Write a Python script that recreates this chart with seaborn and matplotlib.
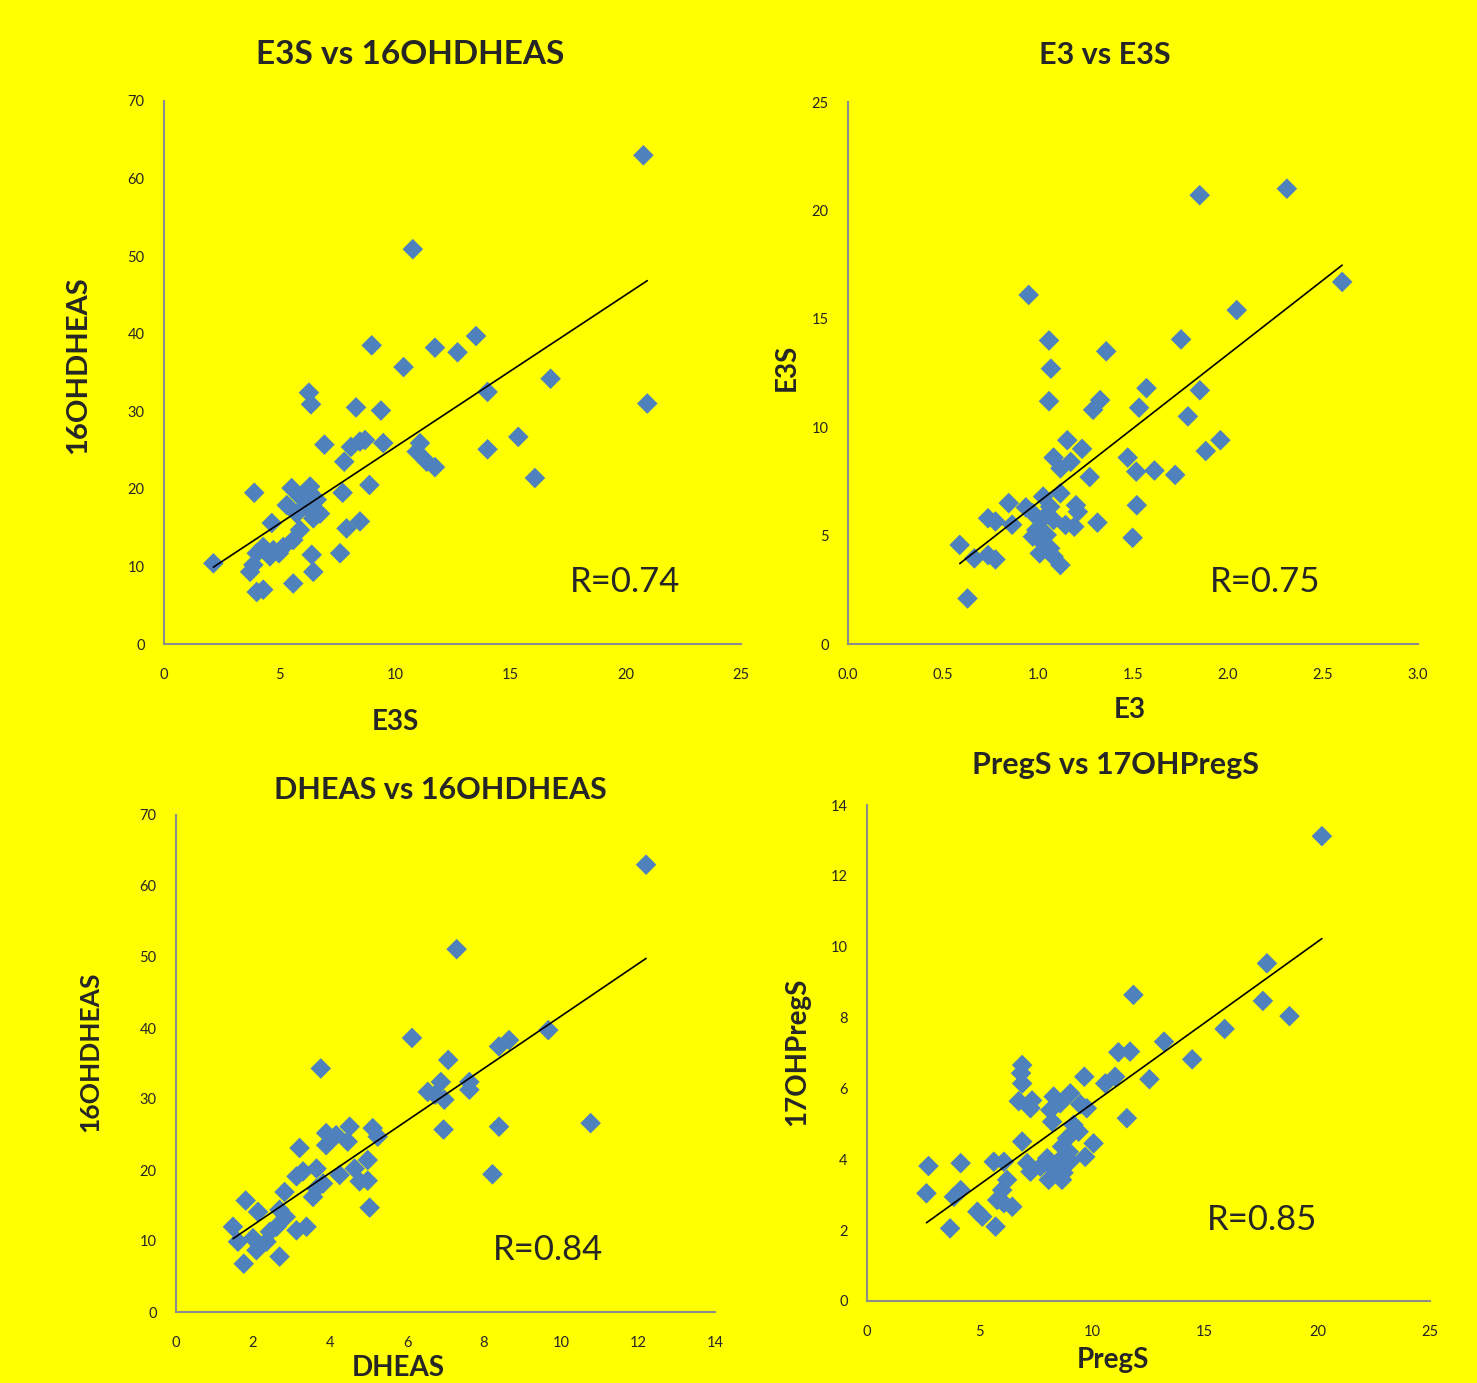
import matplotlib
matplotlib.use('Agg')
import matplotlib.pyplot as plt
import seaborn as sns
import pandas as pd

sns.set_style('white')
plt.rcParams['font.family'] = ['Lato', 'DejaVu Sans']

# E3S vs 16OHDHEAS
e3s_a = [20.77, 10.78, 20.94, 13.52, 11.74, 12.72, 9.0, 10.38, 16.75, 14.02, 6.28, 6.37, 8.32, 9.40,
         15.35, 6.95, 8.49, 8.10, 8.71, 9.5, 7.81, 11.09, 10.95, 11.38, 11.74, 14.02, 16.07, 3.91,
         8.9, 7.74, 5.53, 6.33, 5.89, 5.32, 6.62, 6.18, 6.76, 6.47, 5.75, 4.67, 8.49, 7.91, 5.89,
         5.60, 5.17, 4.74, 4.30, 4.02, 4.59, 3.87, 4.98, 6.4, 7.63, 2.14, 3.73, 6.47, 5.6, 4.02, 4.3]
dheas16_a = [63.0, 50.9, 31.0, 39.7, 38.2, 37.6, 38.5, 35.7, 34.2, 32.5, 32.4, 30.9, 30.5, 30.1,
             26.7, 25.7, 26.1, 25.4, 26.3, 25.9, 23.5, 25.9, 24.8, 23.5, 22.8, 25.1, 21.4, 19.5,
             20.5, 19.5, 20.1, 20.3, 19.0, 17.9, 18.6, 17.7, 16.8, 16.2, 16.8, 15.6, 15.8, 14.9, 14.7,
             13.4, 12.5, 12.1, 12.5, 11.7, 11.3, 10.2, 11.7, 11.5, 11.7, 10.4, 9.3, 9.3, 7.8, 6.7, 7.0]

# E3 vs E3S
e3_b = [1.851, 2.310, 2.601, 0.951, 2.046, 1.058, 1.753, 1.359, 1.068, 1.571, 1.852, 1.058, 1.327,
        1.290, 1.532, 1.789, 1.960, 1.883, 1.154, 1.232, 1.472, 1.082, 1.172, 1.118, 1.517, 1.613,
        1.722, 1.272, 1.520, 1.313, 1.498, 0.846, 0.936, 1.200, 1.210, 1.027, 1.118, 1.064, 0.973,
        1.027, 1.082, 1.145, 1.191, 0.991, 1.046, 0.973, 1.027, 1.064, 1.009, 1.082, 1.118, 0.737,
        0.776, 0.864, 0.588, 0.665, 0.737, 0.776, 0.629]
e3s_b = [20.7, 21.0, 16.7, 16.1, 15.4, 14.0, 14.05, 13.5, 12.7, 11.8, 11.7, 11.2, 11.25, 10.8, 10.9,
         10.5, 9.4, 8.9, 9.4, 9.0, 8.6, 8.6, 8.4, 8.1, 7.95, 8.0, 7.8, 7.7, 6.4, 5.6, 4.9, 6.5, 6.3,
         6.4, 6.1, 6.8, 6.95, 6.33, 6.03, 5.8, 5.72, 5.49, 5.41, 5.26, 5.03, 4.95, 4.64, 4.41, 4.18,
         4.03, 3.64, 5.8, 5.65, 5.5, 4.57, 3.95, 4.1, 3.9, 2.1]

# DHEAS vs 16OHDHEAS
dheas_c = [12.21, 7.29, 6.13, 9.67, 8.39, 8.65, 3.76, 7.07, 6.88, 6.54, 6.73, 6.97, 7.62, 7.62,
           10.77, 8.39, 6.95, 8.22, 5.03, 4.51, 3.9, 4.16, 5.11, 5.24, 4.46, 3.9, 3.21, 4.98, 4.64,
           4.25, 3.65, 3.3, 3.13, 4.77, 4.98, 3.82, 3.65, 3.56, 2.82, 1.81, 2.13, 2.69, 2.85, 3.39,
           3.13, 2.61, 2.44, 1.48, 1.61, 2.0, 2.18, 2.35, 2.09, 1.76, 2.69]
dheas16_c = [63.0, 51.1, 38.6, 39.7, 37.4, 38.3, 34.3, 35.5, 32.4, 31.0, 30.6, 29.9, 32.4, 31.3,
             26.6, 26.1, 25.7, 19.4, 14.7, 26.1, 25.2, 24.9, 25.9, 24.7, 24.0, 23.5, 23.1, 21.4, 20.2,
             19.3, 20.2, 19.8, 19.1, 18.4, 18.5, 18.1, 17.4, 16.2, 16.9, 15.7, 14.1, 14.4, 13.4, 12.0,
             11.5, 12.0, 11.3, 12.0, 9.9, 10.4, 9.4, 9.9, 8.7, 6.8, 7.8]

# PregS vs 17OHPregS
pregs_d = [20.2, 17.76, 11.83, 17.58, 18.76, 15.88, 13.19, 14.44, 11.16, 11.68, 12.54, 11.02, 10.58,
           9.65, 11.54, 6.89, 6.84, 6.89, 6.74, 7.33, 7.26, 8.29, 9.03, 8.58, 9.47, 9.76, 8.14, 8.22,
           9.17, 9.4, 8.88, 10.06, 6.89, 8.66, 8.96, 9.69, 8.0, 8.58, 9.03, 7.7, 8.29, 8.73, 8.07,
           8.66, 7.11, 7.26, 5.63, 6.08, 4.16, 2.73, 2.64, 4.16, 3.86, 6.22, 6.0, 5.78, 6.08, 6.45,
           4.9, 5.12, 3.69, 5.71]
ohpregs_d = [13.12, 9.53, 8.64, 8.47, 8.04, 7.68, 7.32, 6.82, 7.02, 7.04, 6.26, 6.33, 6.14, 6.33,
             5.16, 6.66, 6.43, 6.14, 5.64, 5.66, 5.44, 5.77, 5.86, 5.58, 5.55, 5.44, 5.39, 5.06, 4.97,
             4.78, 4.59, 4.45, 4.5, 4.36, 4.21, 4.07, 4.03, 3.99, 3.95, 3.79, 3.7, 3.62, 3.42, 3.42,
             3.89, 3.65, 3.93, 3.93, 3.89, 3.81, 3.04, 3.13, 2.94, 3.42, 3.13, 2.85, 2.76, 2.66, 2.52,
             2.38, 2.05, 2.1]

yellow = '#FFFF00'
blue = '#4F81BD'

fig = plt.figure(figsize=(14.77, 13.83), dpi=100, facecolor=yellow)

panels = [
    # x, y, axes rect (px), xmax, xstep, ymax, ystep, x tick format
    (e3s_a, dheas16_a, [164, 101, 741, 644], 25, 5, 70, 10, '{:.0f}'),
    (e3_b, e3s_b, [848, 102, 1418, 644], 3.0, 0.5, 25, 5, '{:.1f}'),
    (dheas_c, dheas16_c, [176, 815, 715, 1312], 14, 2, 70, 10, '{:.0f}'),
    (pregs_d, ohpregs_d, [867, 805, 1430, 1301], 25, 5, 14, 2, '{:.0f}'),
]
titles = ['E3S vs 16OHDHEAS', 'E3 vs E3S', 'DHEAS vs 16OHDHEAS', 'PregS vs 17OHPregS']
title_pos = [(410, 55), (1105, 55), (440, 790), (1115, 765)]
title_size = [24, 22, 22, 22]
xlabels = ['E3S', 'E3', 'DHEAS', 'PregS']
xlabel_pos = [(395, 722), (1130, 710), (398, 1368), (1113, 1360)]
ylabels = ['16OHDHEAS', 'E3S', '16OHDHEAS', '17OHPregS']
ylabel_pos = [(78, 365), (787, 367), (90, 1052), (797, 1052)]
ylabel_size = [21, 20, 19, 20]
r_texts = ['R=0.74', 'R=0.75', 'R=0.84', 'R=0.85']
r_pos = [(625, 582), (1265, 582), (548, 1250), (1262, 1220)]

W, H = 1477, 1383

for i, (xs, ys, rect, xmax, xstep, ymax, ystep, xfmt) in enumerate(panels):
    l, t, r, b = rect
    ax = fig.add_axes([l / W, 1 - b / H, (r - l) / W, (b - t) / H])
    ax.set_facecolor(yellow)
    df = pd.DataFrame({'x': xs, 'y': ys})
    sns.regplot(data=df, x='x', y='y', ax=ax, ci=None, marker='D',
                scatter_kws={'s': 110, 'color': blue, 'edgecolor': 'none', 'alpha': 1},
                line_kws={'color': 'black', 'lw': 1.2})
    ax.set_xlim(0, xmax)
    ax.set_ylim(0, ymax)
    nx = int(round(xmax / xstep))
    xt = [k * xstep for k in range(nx + 1)]
    ax.set_xticks(xt)
    ax.set_xticklabels([xfmt.format(v) for v in xt])
    ny = int(round(ymax / ystep))
    ax.set_yticks([k * ystep for k in range(ny + 1)])
    ax.tick_params(axis='x', length=0, labelsize=10.5, pad=17)
    ax.tick_params(axis='y', length=0, labelsize=10.5, pad=14)
    ax.set_xlabel('')
    ax.set_ylabel('')
    for side in ['top', 'right']:
        ax.spines[side].set_visible(False)
    for side in ['left', 'bottom']:
        ax.spines[side].set_color('#8C8C8C')
        ax.spines[side].set_linewidth(1.5)

    tx, ty = title_pos[i]
    fig.text(tx / W, 1 - ty / H, titles[i], ha='center', va='center',
             fontsize=title_size[i], fontweight='bold')
    lx, ly = xlabel_pos[i]
    fig.text(lx / W, 1 - ly / H, xlabels[i], ha='center', va='center',
             fontsize=20, fontweight='bold')
    yx, yy = ylabel_pos[i]
    fig.text(yx / W, 1 - yy / H, ylabels[i], ha='center', va='center',
             fontsize=ylabel_size[i], fontweight='bold', rotation=90)
    rx, ry = r_pos[i]
    fig.text(rx / W, 1 - ry / H, r_texts[i], ha='center', va='center', fontsize=25)

fig.savefig('out.png', dpi=100, facecolor=yellow)
